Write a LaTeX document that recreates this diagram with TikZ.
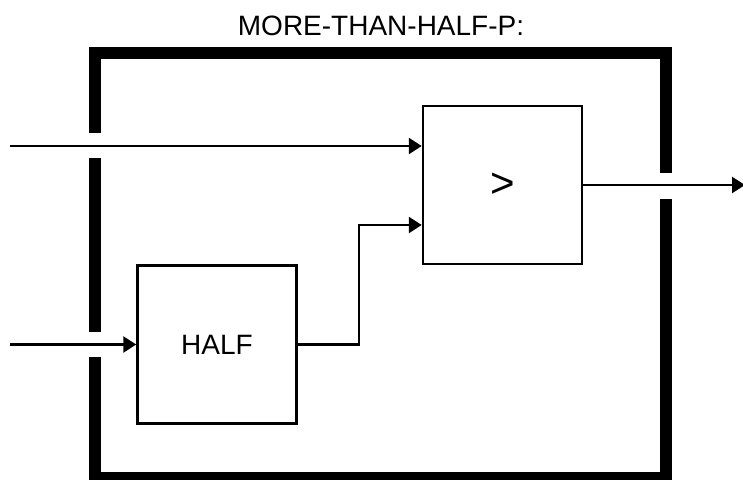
\documentclass[tikz,border=0pt]{standalone}
\usepackage{xcolor}
\usepackage{fontspec}
\setmainfont{Liberation Sans}
\usetikzlibrary{arrows.meta}

\begin{document}
\begin{tikzpicture}[x=1pt,y=-1pt]
      \useasboundingbox (0,0) rectangle (743,479);
      \tikzstyle{block}=[draw=black, line width=2.5pt, minimum width=159pt,
        minimum height=158pt, inner sep=0pt, align=center,
        font=\fontsize{28}{32}\selectfont]
      \tikzstyle{frame}=[draw=black, line width=12pt, line cap=butt, line join=miter]
      \tikzstyle{wire}=[line width=2.5pt, -{Triangle[length=13pt,width=16pt]}]
      % title
      \node[anchor=base, font=\fontsize{28}{32}\selectfont] (title) at (381,35) {MORE-THAN-HALF-P:};
      % outer frame with gaps for the wires
      \draw[frame] (95,133) -- (95,53) -- (666,53) -- (666,173);
      \draw[frame] (666,199) -- (666,478) -- (95,478) -- (95,357);
      \draw[frame] (95,332) -- (95,158);
      % blocks
      \node[block, font=\fontsize{42}{46}\selectfont] (gt) at (502.5,185) {>};
      \node[block] (half) at (217,344.5) {HALF};
      % wires
      \coordinate (in1) at (10,146);
      \coordinate (in2) at (10,344.5);
      \coordinate (out) at (745,185);
      \coordinate (j) at (359,225);
      \draw[wire] (in1) -- (in1 -| gt.west);
      \draw[wire] (in2) -- (half.west);
      \draw[wire] (half.east) -| (j) -- (j -| gt.west);
      \draw[wire] (gt.east) -- (out);
    \end{tikzpicture}
\end{document}
